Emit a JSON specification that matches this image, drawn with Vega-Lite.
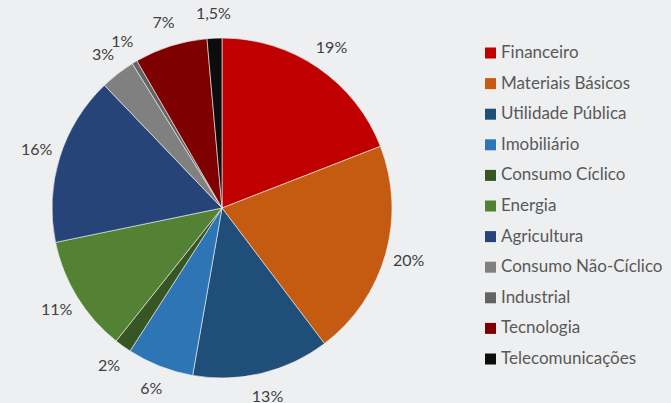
{
  "$schema": "https://vega.github.io/schema/vega-lite/v6.json",
  "width": 444,
  "height": 390,
  "autosize": {"type": "none"},
  "padding": {"left": 0, "top": 13, "right": 227, "bottom": 0},
  "background": "#eeeff0",
  "config": {"view": {"stroke": null}, "font": "Lato"},
  "data": {
    "values": [
      {"i": 1, "setor": "Financeiro", "valor": 19, "rotulo": "19%"},
      {"i": 2, "setor": "Materiais Básicos", "valor": 20.5, "rotulo": "20%"},
      {"i": 3, "setor": "Utilidade Pública", "valor": 13, "rotulo": "13%"},
      {"i": 4, "setor": "Imobiliário", "valor": 6.3, "rotulo": "6%"},
      {"i": 5, "setor": "Consumo Cíclico", "valor": 1.6, "rotulo": "2%"},
      {"i": 6, "setor": "Energia", "valor": 11, "rotulo": "11%"},
      {"i": 7, "setor": "Agricultura", "valor": 16, "rotulo": "16%"},
      {"i": 8, "setor": "Consumo Não-Cíclico", "valor": 3.3, "rotulo": "3%"},
      {"i": 9, "setor": "Industrial", "valor": 0.5, "rotulo": "1%"},
      {"i": 10, "setor": "Tecnologia", "valor": 6.9, "rotulo": "7%"},
      {"i": 11, "setor": "Telecomunicações", "valor": 1.4, "rotulo": "1,5%"}
    ]
  },
  "encoding": {
    "theta": {"field": "valor", "type": "quantitative", "stack": true},
    "order": {"field": "i", "type": "quantitative"}
  },
  "layer": [
    {
      "mark": {"type": "arc", "outerRadius": 170, "stroke": "#f4f4f4", "strokeWidth": 0.6},
      "encoding": {
        "color": {
          "field": "setor",
          "type": "nominal",
          "sort": null,
          "scale": {
            "domain": ["Financeiro", "Materiais Básicos", "Utilidade Pública", "Imobiliário", "Consumo Cíclico", "Energia", "Agricultura", "Consumo Não-Cíclico", "Industrial", "Tecnologia", "Telecomunicações"],
            "range": ["#c00000", "#c55a11", "#1f4e79", "#2e75b6", "#375623", "#548235", "#264478", "#808080", "#636363", "#7f0000", "#0d0d0d"]
          },
          "legend": {
            "title": null,
            "orient": "none",
            "legendX": 482,
            "legendY": 31.5,
            "symbolType": "square",
            "symbolSize": 121,
            "symbolStrokeWidth": 0,
            "labelFontSize": 17,
            "labelColor": "#595959",
            "labelOffset": 2,
            "labelLimit": 300,
            "rowPadding": 12.6,
            "labelFont": "Lato"
          }
        }
      }
    },
    {
      "mark": {"type": "text", "radius": 194, "fontSize": 16, "color": "#404040", "font": "Lato"},
      "encoding": {"text": {"field": "rotulo", "type": "nominal"}}
    }
  ]
}
